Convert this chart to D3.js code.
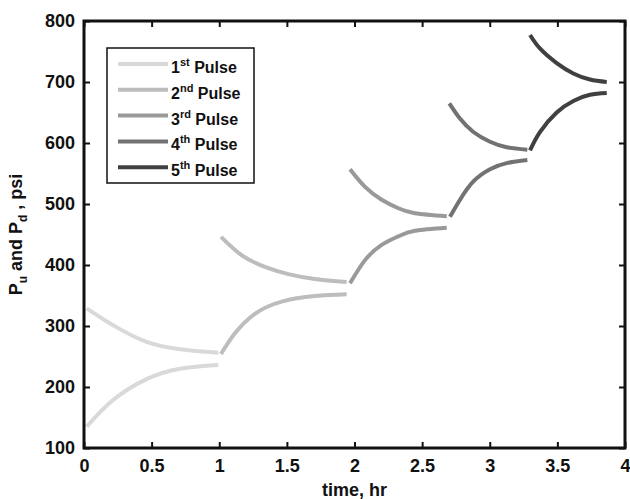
<!DOCTYPE html>
<html><head><meta charset="utf-8">
<script src="https://cdn.jsdelivr.net/npm/d3@7"></script>
<style>body{margin:0;background:#fff;} svg{display:block;font-family:"Liberation Sans",Arial,sans-serif;font-weight:bold;}</style>
</head><body>
<svg id="c" width="630" height="499"></svg>
<script>
const xTicks = [0, 0.5, 1, 1.5, 2, 2.5, 3, 3.5, 4];
const xTickLabels = ["0", "0.5", "1", "1.5", "2", "2.5", "3", "3.5", "4"];
const yTicks = [100, 200, 300, 400, 500, 600, 700, 800];
const pulseNums = ["1", "2", "3", "4", "5"];
const pulseSuffix = ["st", "nd", "rd", "th", "th"];
const pulseColors = ["#d9d9d9", "#bdbdbd", "#999999", "#727272", "#404040"];
// upstream (Pu) and downstream (Pd) per pulse: [time hr, psi]
const pu1 = [[0.02,329],[0.217,301],[0.463,274],[0.71,262],[0.993,256]];
const pd1 = [[0.02,135],[0.217,179],[0.463,213],[0.71,230],[0.993,236]];
const pu2 = [[1.013,446],[1.166,416],[1.338,397],[1.511,385],[1.708,377],[1.942,372]];
const pd2 = [[1.013,254],[1.116,288],[1.264,320],[1.462,340],[1.708,349],[1.942,352]];
const pu3 = [[1.967,557],[2.078,528],[2.201,507],[2.324,493],[2.447,485],[2.682,480]];
const pd3 = [[1.967,370],[2.078,408],[2.201,433],[2.324,447],[2.447,456],[2.682,461]];
const pu4 = [[2.701,665],[2.78,640],[2.879,618],[3.002,602],[3.125,593],[3.278,589]];
const pd4 = [[2.706,479],[2.78,507],[2.879,537],[3.002,557],[3.125,567],[3.278,572]];
const pu5 = [[3.298,777],[3.371,755],[3.495,731],[3.618,714],[3.741,704],[3.865,700]];
const pd5 = [[3.298,588],[3.371,618],[3.495,650],[3.618,669],[3.741,679],[3.865,682]];
const upstream = [pu1, pu2, pu3, pu4, pu5];
const downstream = [pd1, pd2, pd3, pd4, pd5];

const svg = d3.select("#c");
const L = 84, R = 625, T = 21, B = 448;
const x = d3.scaleLinear().domain([0, 4]).range([L, R]);
const y = d3.scaleLinear().domain([100, 800]).range([B, T]);

const line = d3.line().x(d => x(d[0])).y(d => y(d[1])).curve(d3.curveNatural);
for (let i = 0; i < 5; i++) {
  [upstream[i], downstream[i]].forEach(s => {
    svg.append("path").attr("d", line(s)).attr("fill", "none")
      .attr("stroke", pulseColors[i]).attr("stroke-width", 4);
  });
}

// axes (ticks inside, mirrored)
const ax = (g, gen) => { g.call(gen); g.select(".domain").remove(); g.selectAll("line").attr("stroke","#111").attr("stroke-width",2); g.selectAll("text").attr("font-size",18).attr("font-weight","bold").attr("fill","#111").attr("font-family","Liberation Sans, Arial, sans-serif"); };
svg.append("g").attr("transform", `translate(0,${B})`)
  .call(g => ax(g, d3.axisBottom(x).tickValues(xTicks).tickFormat((d,i)=>xTickLabels[i]).tickSizeInner(-6).tickPadding(11)));
svg.append("g").attr("transform", `translate(0,${T})`)
  .call(g => ax(g, d3.axisTop(x).tickValues(xTicks).tickFormat("").tickSizeInner(-6)));
svg.append("g").attr("transform", `translate(${L},0)`)
  .call(g => ax(g, d3.axisLeft(y).tickValues(yTicks).tickSizeInner(-6).tickPadding(9)));
svg.append("g").attr("transform", `translate(${R},0)`)
  .call(g => ax(g, d3.axisRight(y).tickValues(yTicks).tickFormat("").tickSizeInner(-6)));
svg.append("rect").attr("x", L).attr("y", T).attr("width", R - L).attr("height", B - T)
  .attr("fill", "none").attr("stroke", "#111").attr("stroke-width", 3);

// axis titles
svg.append("text").attr("x", (L + R) / 2).attr("y", 496).attr("text-anchor", "middle")
  .attr("font-size", 18).attr("fill", "#111").text("time, hr");
const yl = svg.append("text").attr("transform", `translate(22,${(T + B) / 2}) rotate(-90)`)
  .attr("text-anchor", "middle").attr("font-size", 18).attr("fill", "#111");
yl.append("tspan").text("P");
yl.append("tspan").attr("font-size", 12).attr("dy", 5).text("u");
yl.append("tspan").attr("dy", -5).text(" and P");
yl.append("tspan").attr("font-size", 12).attr("dy", 5).text("d");
yl.append("tspan").attr("dy", -5).text(" , psi");

// legend
const lg = svg.append("g");
lg.append("rect").attr("x", 107).attr("y", 48).attr("width", 147).attr("height", 135)
  .attr("fill", "#fff").attr("stroke", "#111").attr("stroke-width", 1.5);
pulseNums.forEach((n, i) => {
  const yy = 64 + i * 25.8;
  lg.append("line").attr("x1", 118).attr("x2", 168).attr("y1", yy).attr("y2", yy)
    .attr("stroke", pulseColors[i]).attr("stroke-width", 4);
  const t = lg.append("text").attr("x", 171).attr("y", yy + 9).attr("font-size", 16).attr("fill", "#111");
  t.append("tspan").text(n);
  t.append("tspan").attr("font-size", 11).attr("dy", -7).text(pulseSuffix[i]);
  t.append("tspan").attr("dy", 7).text(" Pulse");
});
</script>
</body></html>
